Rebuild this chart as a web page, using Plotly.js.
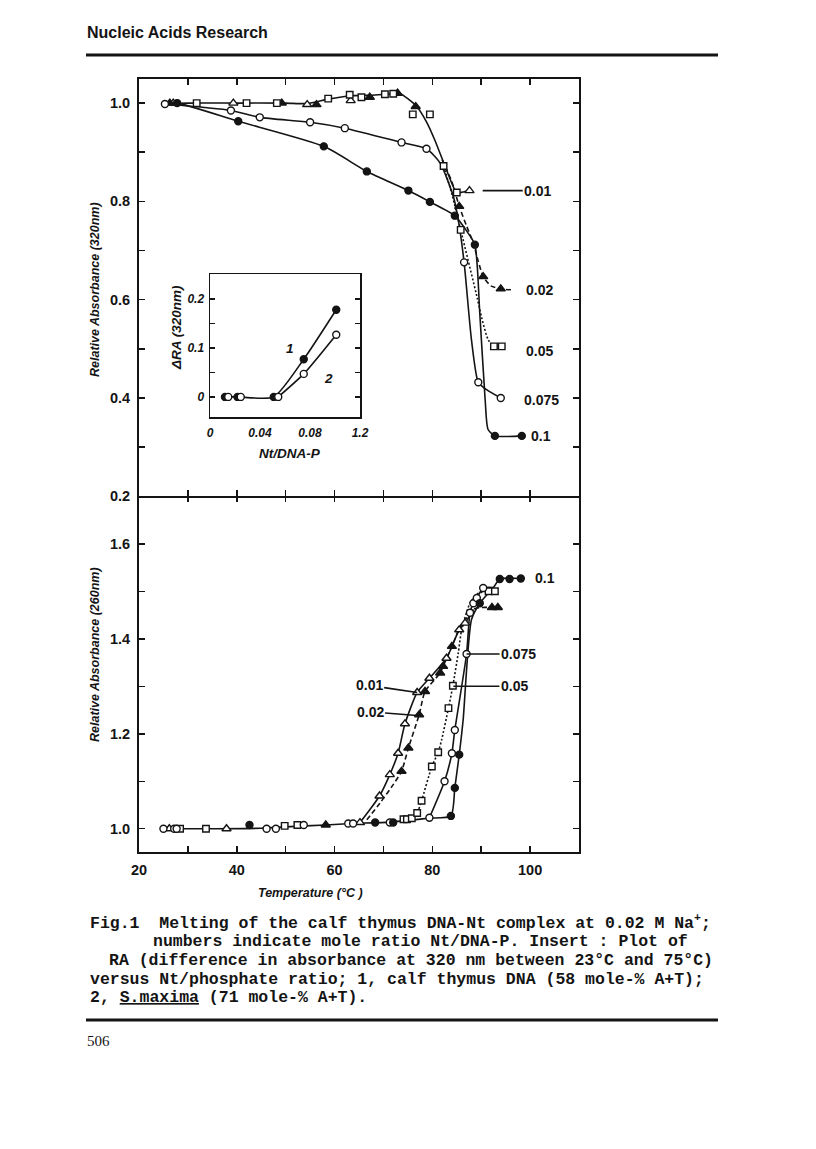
<!DOCTYPE html>
<html>
<head>
<meta charset="utf-8">
<script src="https://cdn.plot.ly/plotly-3.0.1.min.js"></script>
<style>
  html, body { margin: 0; padding: 0; background: #fff; }
  #plot { width: 816px; height: 1149px; }
</style>
</head>
<body>
<div id="plot"></div>
<script>
// Upper panel: relative absorbance at 320 nm vs temperature (°C)
const top001T = [27.0, 39.3, 54.4, 63.3, 87.6];
const top001A = [1.000, 1.000, 0.997, 1.005, 0.822];
const top001CurveT = [25.3, 30, 40, 50, 54.4, 58.7, 63.2, 67.2, 70.3, 73.4, 75.1, 76.8, 78.8, 80.5, 82.9, 84.6, 85.5, 87.6];
const top001CurveA = [0.998, 1.0, 1.0, 1.0, 0.999, 1.008, 1.015, 1.016, 1.018, 1.019, 1.008, 0.993, 0.962, 0.925, 0.864, 0.824, 0.818, 0.822];

const top002T = [26.3, 49.2, 56.3, 67.2, 72.9, 76.6, 85.5, 90.4, 94.0];
const top002A = [1.000, 1.000, 0.997, 1.012, 1.020, 0.993, 0.790, 0.647, 0.622];
const top002CurveT = [82.0, 84.0, 85.5, 87.0, 88.4, 89.4, 90.4, 92.0, 94.0, 96.6];
const top002CurveA = [0.885, 0.840, 0.790, 0.750, 0.715, 0.678, 0.647, 0.628, 0.622, 0.620];

const top005T = [31.8, 42.0, 48.2, 58.7, 63.1, 65.5, 70.3, 72.0, 76.0, 79.5, 82.3, 85.0, 85.8, 92.6, 94.2];
const top005A = [1.000, 1.000, 1.000, 1.009, 1.017, 1.012, 1.018, 1.019, 0.977, 0.977, 0.872, 0.818, 0.742, 0.505, 0.505];
const top005CurveT = [82.3, 84.0, 85.8, 89.2, 90.1, 91.4, 92.6, 94.2];
const top005CurveA = [0.872, 0.815, 0.742, 0.603, 0.563, 0.519, 0.505, 0.505];

const top0075T = [25.3, 38.8, 44.7, 55.0, 62.1, 73.7, 78.8, 86.5, 89.4, 94.0];
const top0075A = [0.998, 0.985, 0.971, 0.961, 0.949, 0.920, 0.907, 0.676, 0.432, 0.400];
const top0075CurveT = [25.3, 38.8, 44.7, 55.0, 62.1, 73.7, 78.8, 81.6, 84.3, 85.3, 86.5, 88.0, 89.4, 91.1, 94.0];
const top0075CurveA = [0.998, 0.985, 0.971, 0.961, 0.949, 0.920, 0.907, 0.878, 0.810, 0.763, 0.676, 0.519, 0.432, 0.417, 0.400];

const top01T = [27.8, 40.3, 57.8, 66.6, 75.1, 79.5, 84.6, 88.7, 92.8, 98.3];
const top01A = [1.000, 0.963, 0.912, 0.861, 0.822, 0.799, 0.771, 0.712, 0.323, 0.323];
const top01CurveT = [25.3, 27.8, 40.3, 57.8, 66.6, 75.1, 79.5, 84.6, 87.0, 88.7, 89.7, 90.8, 91.4, 92.8, 98.3];
const top01CurveA = [0.998, 1.000, 0.963, 0.912, 0.861, 0.822, 0.799, 0.771, 0.740, 0.712, 0.573, 0.397, 0.336, 0.323, 0.323];

// Lower panel: relative absorbance at 260 nm
const bot001T = [26.2, 37.9, 65.2, 69.2, 71.3, 73.0, 74.4, 76.9, 79.4, 82.9, 85.5, 86.7];
const bot001A = [1.000, 1.000, 1.013, 1.069, 1.114, 1.159, 1.221, 1.287, 1.317, 1.359, 1.419, 1.433];
const bot001CurveT = [65.2, 67.2, 69.2, 71.3, 73.0, 74.4, 76.9, 79.4, 82.9, 85.5, 86.7, 88.4];
const bot001CurveA = [1.013, 1.040, 1.069, 1.114, 1.159, 1.221, 1.287, 1.317, 1.359, 1.419, 1.433, 1.462];

const bot002T = [58.2, 73.7, 75.1, 77.3, 78.5, 81.6, 82.2, 84.0, 92.2, 93.4];
const bot002A = [1.008, 1.121, 1.170, 1.240, 1.289, 1.328, 1.342, 1.384, 1.466, 1.466];
const bot002CurveT = [66.6, 69.3, 72.0, 73.7, 75.1, 77.3, 78.5, 81.6, 82.2, 84.0, 85.7, 87.0, 88.4, 90.1, 92.2, 93.4];
const bot002CurveA = [1.019, 1.054, 1.093, 1.121, 1.170, 1.240, 1.289, 1.328, 1.342, 1.384, 1.426, 1.444, 1.462, 1.466, 1.466, 1.466];

const bot005T = [28.4, 33.7, 49.8, 52.4, 74.1, 74.8, 75.8, 76.9, 77.8, 79.9, 81.2, 83.3, 84.2, 91.5, 92.8];
const bot005A = [1.000, 1.000, 1.006, 1.008, 1.020, 1.020, 1.022, 1.033, 1.059, 1.131, 1.161, 1.254, 1.301, 1.500, 1.500];
const bot005CurveT = [75.8, 76.9, 77.8, 79.9, 81.2, 81.9, 83.3, 84.2, 85.3, 86.0, 87.7, 89.4, 91.5, 92.8];
const bot005CurveA = [1.022, 1.033, 1.059, 1.131, 1.161, 1.187, 1.254, 1.301, 1.370, 1.419, 1.475, 1.496, 1.500, 1.500];

const bot0075T = [25.0, 27.2, 27.7, 46.1, 48.0, 53.7, 62.8, 63.8, 71.3, 79.4, 82.5, 84.0, 84.6, 87.0, 87.7, 88.4, 89.1, 90.4];
const bot0075A = [1.000, 1.000, 1.000, 1.000, 1.000, 1.008, 1.011, 1.011, 1.013, 1.023, 1.100, 1.159, 1.208, 1.368, 1.455, 1.475, 1.486, 1.507];
const bot0075CurveT = [79.4, 82.5, 84.0, 84.6, 87.0, 87.7, 88.4, 89.1, 90.4, 92.5];
const bot0075CurveA = [1.023, 1.100, 1.159, 1.208, 1.368, 1.455, 1.475, 1.486, 1.507, 1.508];

const bot01T = [42.6, 68.3, 72.0, 83.8, 84.6, 85.5, 89.7, 93.8, 95.8, 98.1];
const bot01A = [1.008, 1.013, 1.013, 1.027, 1.086, 1.156, 1.475, 1.526, 1.526, 1.527];
const bot01CurveT = [25.0, 35.0, 45.0, 50.0, 58.2, 63.5, 71.3, 79.2, 83.8, 84.6, 85.5, 86.3, 88.0, 89.7, 92.5, 93.8, 98.1];
const bot01CurveA = [1.000, 1.000, 1.001, 1.004, 1.008, 1.011, 1.014, 1.022, 1.027, 1.086, 1.156, 1.229, 1.440, 1.475, 1.508, 1.526, 1.527];

// Insert: delta RA (320 nm) vs Nt/DNA-P ratio
const insetRatio1 = [0.012, 0.022, 0.051, 0.075, 0.101];
const insetDelta1 = [0, 0, 0, 0.077, 0.178];
const insetRatio2 = [0.0146, 0.0246, 0.0546, 0.075, 0.101];
const insetDelta2 = [0, 0, 0, 0.047, 0.127];

const tempTicks = [20, 30, 40, 50, 60, 70, 80, 90, 100];
const tempTickText = ['20', '', '40', '', '60', '', '80', '', '100'];
const topTicks = [0.2, 0.3, 0.4, 0.5, 0.6, 0.7, 0.8, 0.9, 1.0];
const topTickText = ['0.2', '', '0.4', '', '0.6', '', '0.8', '', '1.0'];
const botTicks = [1.0, 1.1, 1.2, 1.3, 1.4, 1.5, 1.6];
const botTickText = ['1.0', '', '1.2', '', '1.4', '', '1.6'];
const insetXTicks = [0, 0.04, 0.08, 0.12];
const insetXText = ['0', '0.04', '0.08', '1.2'];
const insetYTicks = [0, 0.05, 0.1, 0.15, 0.2];
const insetYText = ['0', '', '0.1', '', '0.2'];

// plot area in page pixels, used to place page furniture
const L = 139, R = 579, T = 79, B = 852;
const px = x => (x - L) / (R - L);
const py = y => (B - y) / (B - T);

const INK = '#141414';
const sans = 'Liberation Sans, Arial, sans-serif';

const topSeries = [
  { mT: top001T, mA: top001A, cT: top001CurveT, cA: top001CurveA, sym: 'triangle-up', fill: '#fff', size: 8, dash: 'solid' },
  { mT: top002T, mA: top002A, cT: top002CurveT, cA: top002CurveA, sym: 'triangle-up', fill: INK, size: 8, dash: '5px,3px' },
  { mT: top005T, mA: top005A, cT: top005CurveT, cA: top005CurveA, sym: 'square', fill: '#fff', size: 6.5, dash: '2px,2px' },
  { mT: top0075T, mA: top0075A, cT: top0075CurveT, cA: top0075CurveA, sym: 'circle', fill: '#fff', size: 7, dash: 'solid' },
  { mT: top01T, mA: top01A, cT: top01CurveT, cA: top01CurveA, sym: 'circle', fill: INK, size: 7, dash: 'solid' }
];
const botSeries = [
  { mT: bot001T, mA: bot001A, cT: bot001CurveT, cA: bot001CurveA, sym: 'triangle-up', fill: '#fff', size: 8, dash: 'solid' },
  { mT: bot002T, mA: bot002A, cT: bot002CurveT, cA: bot002CurveA, sym: 'triangle-up', fill: INK, size: 8, dash: '5px,3px' },
  { mT: bot005T, mA: bot005A, cT: bot005CurveT, cA: bot005CurveA, sym: 'square', fill: '#fff', size: 6.5, dash: '2px,2px' },
  { mT: bot0075T, mA: bot0075A, cT: bot0075CurveT, cA: bot0075CurveA, sym: 'circle', fill: '#fff', size: 7, dash: 'solid' },
  { mT: bot01T, mA: bot01A, cT: bot01CurveT, cA: bot01CurveA, sym: 'circle', fill: INK, size: 7, dash: 'solid' }
];
const insetSeries = [
  { mT: insetRatio1, mA: insetDelta1, cT: insetRatio1, cA: insetDelta1, sym: 'circle', fill: INK, size: 7, dash: 'solid' },
  { mT: insetRatio2, mA: insetDelta2, cT: insetRatio2.slice(2), cA: insetDelta2.slice(2), sym: 'circle', fill: '#fff', size: 7, dash: 'solid' }
];

const lineTraces = [];
const markerTraces = [];
function addSeries(list, xa, ya) {
  list.forEach(s => {
    lineTraces.push({
      x: s.cT, y: s.cA, xaxis: xa, yaxis: ya, mode: 'lines', hoverinfo: 'skip',
      line: { color: INK, width: 1.6, dash: s.dash, shape: 'spline', smoothing: 0.6 }
    });
    markerTraces.push({
      x: s.mT, y: s.mA, xaxis: xa, yaxis: ya, mode: 'markers', cliponaxis: false,
      marker: { symbol: s.sym, size: s.size, color: s.fill, line: { color: INK, width: 1.4 } }
    });
  });
}
addSeries(botSeries, 'x', 'y');
addSeries(topSeries, 'x2', 'y2');
addSeries(insetSeries, 'x3', 'y3');
// empty trace so the tick-only axis on the shared border gets drawn
lineTraces.push({ x: [], y: [], xaxis: 'x4', yaxis: 'y', mode: 'lines', hoverinfo: 'skip' });

const tickFont = { family: sans, size: 14.5, color: INK, weight: 'bold' };
const baseAxis = {
  showline: true, linecolor: INK, linewidth: 2, mirror: 'ticks',
  ticks: 'inside', ticklen: 6, tickwidth: 1.5, tickcolor: INK,
  showgrid: false, zeroline: false, tickfont: tickFont, ticklabelstandoff: 4
};
const insetFont = { family: sans, size: 12, color: INK, weight: 'bold', style: 'italic' };

const layout = {
  width: 816, height: 1149,
  margin: { l: L, r: 816 - R, t: T, b: 1149 - B },
  paper_bgcolor: '#fff', plot_bgcolor: '#fff',
  showlegend: false,
  xaxis: Object.assign({}, baseAxis, { domain: [0, 1], anchor: 'y', mirror: false, range: [20, 110], tickmode: 'array', tickvals: tempTicks, ticktext: tempTickText }),
  xaxis4: Object.assign({}, baseAxis, { overlaying: 'x', anchor: 'y', side: 'top', showline: false, mirror: false, range: [20, 110], tickmode: 'array', tickvals: tempTicks, showticklabels: false }),
  yaxis: Object.assign({}, baseAxis, { domain: [0, 0.4601], anchor: 'x', range: [0.951, 1.70], tickmode: 'array', tickvals: botTicks, ticktext: botTickText }),
  xaxis2: Object.assign({}, baseAxis, { domain: [0, 1], anchor: 'y2', range: [20, 110], tickmode: 'array', tickvals: tempTicks, showticklabels: false }),
  yaxis2: Object.assign({}, baseAxis, { domain: [0.4601, 1], anchor: 'x2', range: [0.2, 1.049], tickmode: 'array', tickvals: topTicks, ticktext: topTickText }),
  xaxis3: {
    domain: [px(210), px(360)], anchor: 'y3', range: [0, 0.12],
    showline: true, mirror: true, linecolor: INK, linewidth: 1.5, ticks: '',
    showgrid: false, zeroline: false, tickmode: 'array', tickvals: insetXTicks, ticktext: insetXText,
    tickfont: insetFont, ticklabelstandoff: 4
  },
  yaxis3: {
    domain: [py(417), py(274)], anchor: 'x3', range: [-0.041, 0.251],
    showline: true, mirror: 'ticks', linecolor: INK, linewidth: 1.5,
    ticks: 'inside', ticklen: 5, tickwidth: 1.3, tickcolor: INK,
    showgrid: false, zeroline: false, tickmode: 'array', tickvals: insetYTicks, ticktext: insetYText,
    tickfont: insetFont, ticklabelstandoff: 2
  },
  shapes: [
    { type: 'line', xref: 'paper', yref: 'paper', x0: px(86), x1: px(718), y0: py(55), y1: py(55), line: { color: INK, width: 3 } },
    { type: 'line', xref: 'paper', yref: 'paper', x0: px(86), x1: px(718), y0: py(1020), y1: py(1020), line: { color: INK, width: 3 } }
  ],
  annotations: []
};

const ann = layout.annotations;
const lblFont = { family: sans, size: 14, color: INK, weight: 'bold' };
const titleFont = { family: sans, size: 12.5, color: INK, weight: 'bold', style: 'italic' };
const insetTitleFont = { family: sans, size: 13.5, color: INK, weight: 'bold', style: 'italic' };

function pageText(x, y, text, font, extra) {
  ann.push(Object.assign({ xref: 'paper', yref: 'paper', x: px(x), y: py(y), xanchor: 'center', yanchor: 'middle',
    showarrow: false, text: text, font: font }, extra || {}));
}

// page header / footer
pageText(85, 32, 'Nucleic Acids Research', { family: sans, size: 16, color: INK, weight: 'bold' }, { xanchor: 'left' });
pageText(85, 1041, '506', { family: 'Liberation Serif, serif', size: 15, color: INK }, { xanchor: 'left' });

// axis titles
pageText(95, 290, 'Relative Absorbance (320nm)', titleFont, { textangle: -90 });
pageText(95, 655, 'Relative Absorbance (260nm)', titleFont, { textangle: -90 });
pageText(310, 893, 'Temperature (°C )', titleFont);
pageText(176, 328, 'ΔRA (320nm)', insetTitleFont, { textangle: -90 });
pageText(290, 453, 'Nt/DNA-P', insetTitleFont);
ann.push({ xref: 'x3', yref: 'y3', x: 0.064, y: 0.099, showarrow: false, text: '1', font: insetTitleFont });
ann.push({ xref: 'x3', yref: 'y3', x: 0.0947, y: 0.038, showarrow: false, text: '2', font: insetTitleFont });

function leader(xa, ya, x, y, ax, ay, text) {
  ann.push({ xref: xa, yref: ya, x: x, y: y, ax: ax, ay: ay, showarrow: true, arrowhead: 0,
    arrowwidth: 1.6, arrowcolor: INK, standoff: 0, text: text, font: lblFont });
}
function plain(xa, ya, x, y, text) {
  ann.push({ xref: xa, yref: ya, x: x, y: y, xanchor: 'center', yanchor: 'middle', showarrow: false, text: text, font: lblFont });
}

// curve labels, upper panel
leader('x2', 'y2', 90.3, 0.822, 55, 0, '0.01');
plain('x2', 'y2', 102.0, 0.620, '0.02');
plain('x2', 'y2', 102.0, 0.495, '0.05');
plain('x2', 'y2', 102.4, 0.397, '0.075');
plain('x2', 'y2', 102.2, 0.323, '0.1');

// curve labels, lower panel
plain('x', 'y', 103.0, 1.528, '0.1');
leader('x', 'y', 87.0, 1.368, 52, 0, '0.075');
leader('x', 'y', 84.3, 1.300, 61, 0, '0.05');
leader('x', 'y', 76.9, 1.287, -48, -7, '0.01');
leader('x', 'y', 77.5, 1.238, -50, -4, '0.02');

// caption, typewritten
const captionLines = [
  'Fig.1  Melting of the calf thymus DNA-Nt complex at 0.02 M Na<sup>+</sup>;',
  'numbers indicate mole ratio Nt/DNA-P. Insert : Plot of',
  'RA (difference in absorbance at 320 nm between 23°C and 75°C)',
  'versus Nt/phosphate ratio; 1, calf thymus DNA (58 mole-% A+T);',
  '2, <u>S.maxima</u> (71 mole-% A+T).'
];
const captionX = [88, 151, 107, 88, 88];
const captionY = [922, 941, 960, 979, 997];
captionLines.forEach((t, i) => {
  pageText(captionX[i], captionY[i], t, { family: 'Liberation Mono, monospace', size: 16.5, color: INK, weight: 'bold' }, { xanchor: 'left' });
});

Plotly.newPlot('plot', lineTraces.concat(markerTraces), layout, { staticPlot: true, displayModeBar: false });
</script>
</body>
</html>
